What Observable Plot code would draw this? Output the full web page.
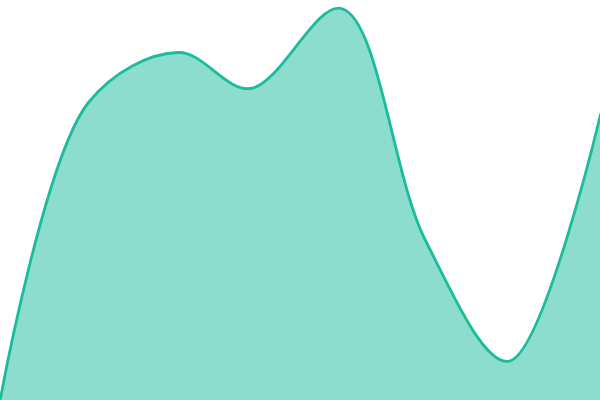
<!DOCTYPE html>
<html>
<head>
<meta charset="utf-8">
<script src="https://cdn.jsdelivr.net/npm/d3@7"></script>
<script src="https://cdn.jsdelivr.net/npm/@observablehq/plot@0.6"></script>
<style>
html, body { margin: 0; padding: 0; background: #fff; }
</style>
</head>
<body>
<div id="chart"></div>
<script>
const xs = [0, 88, 178, 250, 341, 425, 508, 600];
const values = [0.5, 74.5, 87, 78, 98, 40, 9.8, 71.5];

const data = xs.map((x, i) => ({ x, v: values[i] }));

const chart = Plot.plot({
  width: 600,
  height: 400,
  margin: 0,
  x: { domain: [0, 600], axis: null },
  y: { domain: [0, 100], axis: null },
  marks: [
    Plot.areaY(data, { x: "x", y: "v", curve: "catmull-rom", fill: "#1abc9c", fillOpacity: 0.5 }),
    Plot.lineY(data, { x: "x", y: "v", curve: "catmull-rom", stroke: "#1abc9c", strokeWidth: 2.8 })
  ]
});
document.getElementById("chart").appendChild(chart);
</script>
</body>
</html>
